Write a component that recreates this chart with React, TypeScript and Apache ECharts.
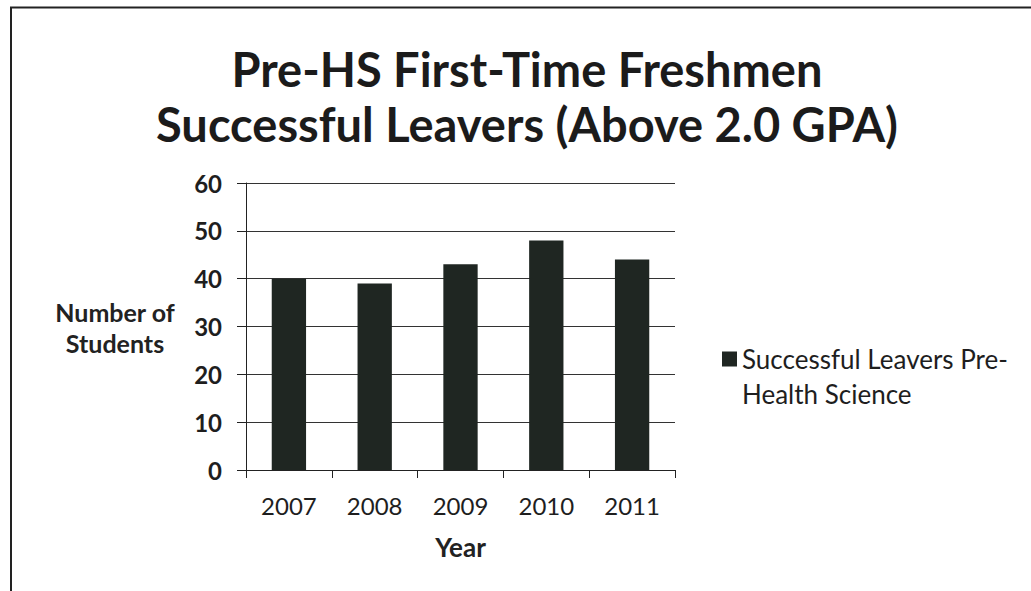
import React, { useEffect, useRef } from "react";
import * as echarts from "echarts";

const years = ["2007", "2008", "2009", "2010", "2011"];
const successfulLeavers = [40, 39, 43, 48, 44];
const seriesName = "Successful Leavers Pre-Health Science";
const titleLines = ["Pre-HS First-Time Freshmen", "Successful Leavers (Above 2.0 GPA)"];
const yAxisTitle = ["Number of", "Students"];
const legendLines = ["Successful Leavers Pre-", "Health Science"];

const FONT = "Lato, 'Open Sans', sans-serif";

export default function App() {
  const ref = useRef<HTMLDivElement>(null);
  useEffect(() => {
    document.body.style.margin = "0";
    const chart = echarts.init(ref.current!, null, { renderer: "svg" });
    chart.setOption({
      animation: false,
      backgroundColor: "#ffffff",
      textStyle: { fontFamily: FONT },
      title: {
        text: titleLines.join("\n"),
        left: 522,
        textAlign: "center",
        top: 36,
        textStyle: {
          fontFamily: FONT,
          fontSize: 47,
          fontWeight: "bold",
          color: "#1b1b1b",
          lineHeight: 55,
        },
      },
      grid: { left: 246, right: 356, top: 183, bottom: 121, containLabel: false },
      legend: {
        left: 717,
        top: 336,
        orient: "vertical",
        itemWidth: 15,
        itemHeight: 49,
        icon: "path://M0,0H15V15H0Z M0,49L0.001,49Z",
        formatter: () => legendLines.join("\n"),
        textStyle: { fontFamily: FONT, fontSize: 26, color: "#1e1e1e", lineHeight: 35 },
        data: [seriesName],
      },
      xAxis: {
        type: "category",
        data: years,
        name: "Year",
        nameLocation: "middle",
        nameGap: 64,
        nameTextStyle: { fontFamily: FONT, fontSize: 26, fontWeight: "bold", color: "#222" },
        axisLine: { lineStyle: { color: "#222", width: 1 } },
        axisTick: { show: true, length: 8, lineStyle: { color: "#222" } },
        axisLabel: { fontFamily: FONT, fontSize: 24, color: "#1e1e1e", margin: 23 },
      },
      yAxis: {
        type: "value",
        min: 0,
        max: 60,
        interval: 10,
        axisLine: { show: true, lineStyle: { color: "#222", width: 1 } },
        axisTick: { show: true, length: 9, lineStyle: { color: "#222" } },
        splitLine: { show: true, lineStyle: { color: "#333", width: 1 } },
        axisLabel: { fontFamily: FONT, fontSize: 24, fontWeight: "bold", color: "#1e1e1e", margin: 24 },
      },
      graphic: [
        {
          type: "polyline",
          shape: { points: [[11, 600], [11, 7.5], [1040, 7.5]] },
          style: { stroke: "#222", lineWidth: 2, fill: "none" },
        },
        {
          type: "text",
          x: 115,
          y: 296,
          style: {
            text: yAxisTitle.join("\n"),
            align: "center",
            verticalAlign: "top",
            fontFamily: FONT,
            fontSize: 25,
            fontWeight: "bold",
            lineHeight: 31,
            fill: "#222",
          },
        },
      ],
      series: [
        {
          name: seriesName,
          type: "bar",
          data: successfulLeavers,
          barWidth: "40%",
          itemStyle: { color: "#1f2622" },
        },
      ],
    });
    return () => chart.dispose();
  }, []);
  return <div ref={ref} style={{ width: 1031, height: 591 }} />;
}
